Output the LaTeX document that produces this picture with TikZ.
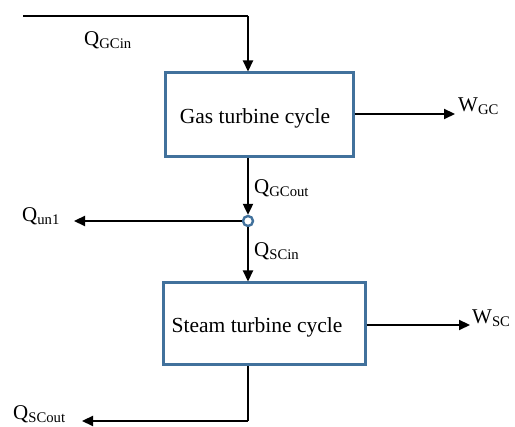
\documentclass[tikz,border=0pt]{standalone}
\usepackage{fontspec}
\setmainfont{Liberation Serif}
\usetikzlibrary{arrows.meta}
\definecolor{boxblue}{HTML}{41719C}
\begin{document}
\begin{tikzpicture}[x=1pt,y=-1pt,
  flow/.style={line width=2.2pt,-{Triangle[length=11pt,width=10pt]}},
  plain/.style={line width=2.2pt},
  cyclebox/.style={draw=boxblue,line width=3pt,fill=white},
  boxtext/.style={font=\fontsize{21.5}{24}\selectfont,inner sep=0pt},
  qlab/.style={font=\fontsize{21}{24}\selectfont,inner sep=0pt}]
\useasboundingbox (0,0) rectangle (515,427);
\node[cyclebox,minimum width=188pt,minimum height=84pt] (gas) at (259,115) {};
\node[cyclebox,minimum width=202pt,minimum height=82pt] (steam) at (264,324) {};
\node[boxtext] (gast) at (255,118) {Gas turbine cycle};
\node[boxtext] (steamt) at (257,327) {Steam turbine cycle};
\node[draw=boxblue,fill=white,circle,line width=2.4pt,inner sep=0pt,minimum size=10pt] (j) at (248,221) {};
\coordinate (qin) at (23,16);
\coordinate (qinc) at (248,16);
\coordinate (wgc) at (455,114);
\coordinate (wsc) at (470,325);
\coordinate (qun) at (74,221);
\coordinate (sb) at (248,421);
\coordinate (sout) at (82,421);
\draw[plain] (qin) -- (qinc);
\draw[flow] (qinc) -- (qinc |- gas.north);
\draw[flow] (gas.east |- wgc) -- (wgc);
\draw[flow] (steam.east |- wsc) -- (wsc);
\draw[flow] (j |- gas.south) -- (j.north);
\draw[flow] (j.west) -- (qun);
\draw[flow] (j.south) -- (j |- steam.north);
\draw[plain] (sb |- steam.south) -- (sb);
\draw[flow] (sb) -- (sout);
\node[qlab,anchor=west] (l1) at (84,40) {Q\textsubscript{GCin}};
\node[qlab,anchor=west] (l2) at (458,106) {W\textsubscript{GC}};
\node[qlab,anchor=west] (l3) at (254,188) {Q\textsubscript{GCout}};
\node[qlab,anchor=west] (l4) at (22,216) {Q\textsubscript{un1}};
\node[qlab,anchor=west] (l5) at (254,251) {Q\textsubscript{SCin}};
\node[qlab,anchor=west] (l6) at (472,318) {W\textsubscript{SC}};
\node[qlab,anchor=west] (l7) at (13,414) {Q\textsubscript{SCout}};
\end{tikzpicture}
\end{document}
